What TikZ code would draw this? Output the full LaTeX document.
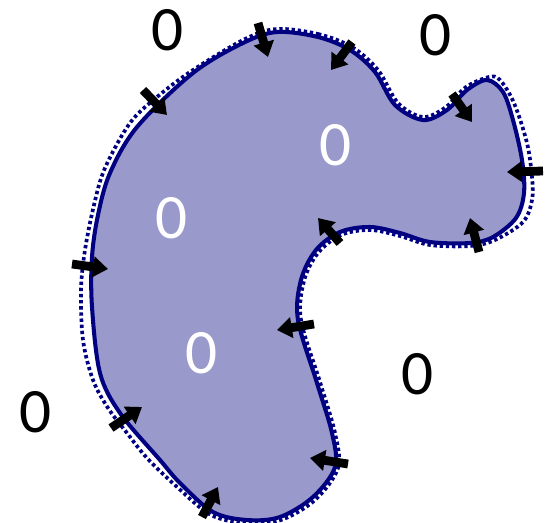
\documentclass[tikz,border=0pt]{standalone}
\usepackage{fontspec}
\setmainfont{Carlito}
\usepackage{tikz}
\usetikzlibrary{arrows.meta}
\definecolor{blobfill}{RGB}{153,153,204}
\definecolor{rim}{RGB}{0,0,128}

\begin{document}
\begin{tikzpicture}[x=0.02cm, y=-0.02cm,
        region/.style={fill=blobfill, draw=rim, line width=2.3pt},
        trace/.style={draw=rim, line width=2.1pt, dash pattern=on 1.9pt off 1.6pt},
        normal/.style={-{Triangle[length=8.5pt, width=11.5pt]}, line width=5pt, black},
        outlabel/.style={inner sep=0pt, text=black, font=\fontsize{36pt}{40pt}\selectfont},
        inlabel/.style={inner sep=0pt, text=white, font=\fontsize{36pt}{40pt}\selectfont}
    ]
        \useasboundingbox (0,0) rectangle (548,522);
        \fill[blobfill] plot[smooth cycle, tension=0.55] coordinates {
            (277,32) (318,37) (350,50) (375,72) (395,105) (423,120) (447,110) (467,90)
            (487,80) (503,92) (513,120) (522,160) (524,193) (516,218) (493,237) (470,243)
            (430,242) (400,233) (370,227) (340,232) (316,250) (301,280) (298,320) (317,383)
            (332,433) (335,467) (313,497) (280,517) (247,520) (213,512) (180,483) (160,460)
            (120,413) (100,373) (92,307) (92,257) (98,215) (110,173) (137,127) (193,73) (243,43)};
        \draw[trace] plot[smooth cycle, tension=0.55] coordinates {
            (277,29) (318,34) (352,47) (378,70) (398,103) (423,117) (446,107) (466,87)
            (489,77) (500,80) (514,103) (527,143) (532,177) (532,200) (523,222) (495,240)
            (470,246) (430,245) (400,236) (370,230) (341,235) (318,253) (304,281) (301,320)
            (320,382) (335,433) (338,468) (315,500) (281,520) (247,523) (211,515) (176,486)
            (147,458) (127,433) (108,408) (93,380) (83,340) (81,290) (85,250) (94,205)
            (105,168) (130,123) (157,97) (193,70) (245,39)};
        \draw[region, fill=none] plot[smooth cycle, tension=0.55] coordinates {
            (277,32) (318,37) (350,50) (375,72) (395,105) (423,120) (447,110) (467,90)
            (487,80) (503,92) (513,120) (522,160) (524,193) (516,218) (493,237) (470,243)
            (430,242) (400,233) (370,227) (340,232) (316,250) (301,280) (298,320) (317,383)
            (332,433) (335,467) (313,497) (280,517) (247,520) (213,512) (180,483) (160,460)
            (120,413) (100,373) (92,307) (92,257) (98,215) (110,173) (137,127) (193,73) (243,43)};

        \draw[normal] (143,90) -- (167,115);
        \draw[normal] (258,23) -- (268,57);
        \draw[normal] (352,42) -- (331,70);
        \draw[normal] (452,94) -- (472,122);
        \draw[normal] (543,171) -- (507,172);
        \draw[normal] (479,252) -- (470,218);
        \draw[normal] (340,243) -- (318,218);
        \draw[normal] (314,324) -- (277,330);
        \draw[normal] (348,464) -- (310,458);
        \draw[normal] (202,517) -- (218,487);
        \draw[normal] (111,428) -- (142,407);
        \draw[normal] (72,264) -- (108,269);

        \node[outlabel] (outTL) at (168,30) {0};
        \node[outlabel] (outTR) at (436,35) {0};
        \node[outlabel] (outBL) at (36,412) {0};
        \node[outlabel] (outBR) at (418,374) {0};
        \node[inlabel] (inTop) at (336,145) {0};
        \node[inlabel] (inMid) at (172,218) {0};
        \node[inlabel] (inLow) at (202,353) {0};
    \end{tikzpicture}
\end{document}
